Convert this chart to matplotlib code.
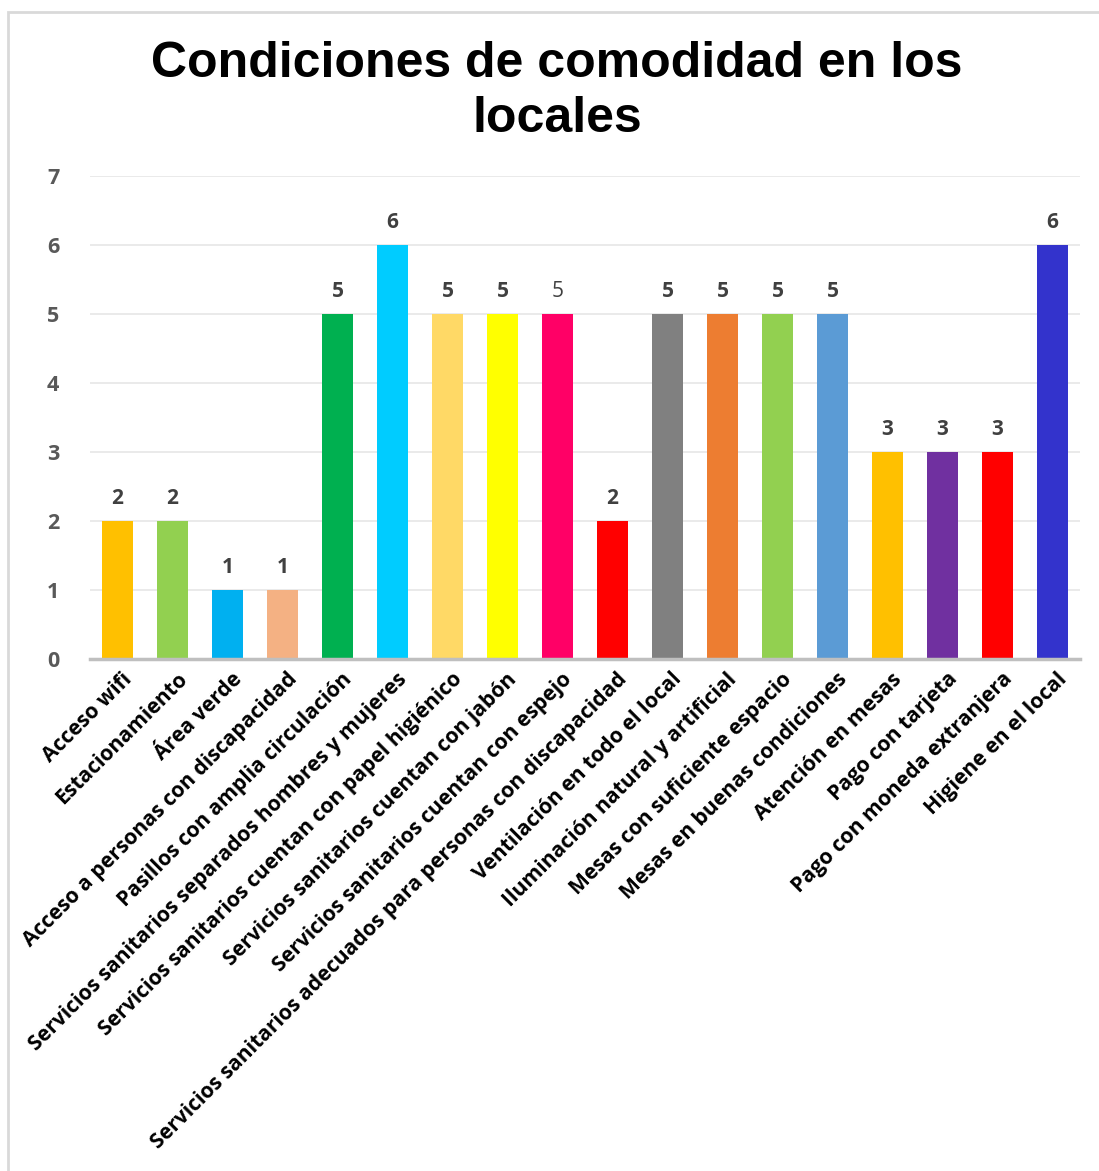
import numpy as np
import matplotlib
matplotlib.use("Agg")
import matplotlib.pyplot as plt
import matplotlib.transforms as mtransforms
from matplotlib.patches import Rectangle

categorias = [
    "Acceso wifi",
    "Estacionamiento",
    "Área verde",
    "Acceso a personas con discapacidad",
    "Pasillos con amplia circulación",
    "Servicios sanitarios separados hombres y mujeres",
    "Servicios sanitarios cuentan con papel higiénico",
    "Servicios sanitarios cuentan con jabón",
    "Servicios sanitarios cuentan con espejo",
    "Servicios sanitarios adecuados para personas con discapacidad",
    "Ventilación en todo el local",
    "Iluminación natural y artificial",
    "Mesas con suficiente espacio",
    "Mesas en buenas condiciones",
    "Atención en mesas",
    "Pago con tarjeta",
    "Pago con moneda extranjera",
    "Higiene en el local",
]
valores = [2, 2, 1, 1, 5, 6, 5, 5, 5, 2, 5, 5, 5, 5, 3, 3, 3, 6]
colores = ["#FFC000", "#92D050", "#00B0F0", "#F4B183", "#00B050", "#00CCFF",
           "#FFD966", "#FFFF00", "#FF0066", "#FF0000", "#808080", "#ED7D31",
           "#92D050", "#5B9BD5", "#FFC000", "#7030A0", "#FF0000", "#3333CC"]

fuente = "Open Sans"

fig = plt.figure(figsize=(10.99, 11.71), dpi=100)
ax = fig.add_axes([90 / 1099, 1 - 659 / 1171, 990 / 1099, (659 - 176) / 1171])

x = np.arange(len(categorias))
barras = ax.bar(x, valores, width=0.57, color=colores, zorder=3)

for i, (xi, v) in enumerate(zip(x, valores)):
    peso = "normal" if i == 8 else "bold"
    ax.text(xi, v + 0.18, str(v), ha="center", va="bottom", fontsize=15,
            fontweight=peso, color="#404040", family=fuente)

ax.set_xlim(-0.5, len(categorias) - 0.5)
ax.set_ylim(0, 7)
ax.set_yticks(range(0, 8))
ax.yaxis.grid(True, color="#e6e6e6", linewidth=1.2, zorder=0)
ax.set_axisbelow(True)
for s in ["top", "right", "left"]:
    ax.spines[s].set_visible(False)
ax.spines["bottom"].set_color("#bfbfbf")
ax.spines["bottom"].set_linewidth(2.5)
ax.spines["bottom"].set_zorder(4)
ax.tick_params(axis="both", length=0)
ax.tick_params(axis="y", pad=22)
ax.tick_params(axis="x", pad=7)

ax.set_yticklabels([str(t) for t in range(0, 8)], fontsize=15.5, fontweight="bold",
                   color="#595959", family=fuente)
ax.set_xticks(x)
ax.set_xticklabels(categorias, rotation=45, ha="right", va="top",
                   rotation_mode="anchor", fontsize=15.2, fontweight="bold",
                   color="black", family=fuente)
desplazar = mtransforms.ScaledTranslation(4 / 100, 0, fig.dpi_scale_trans)
for lbl in ax.get_xticklabels():
    lbl.set_transform(lbl.get_transform() + desplazar)

fig.text(557 / 1099, 1 - 64 / 1171, "Condiciones de comodidad en los",
         ha="center", va="center", fontsize=36, fontweight="bold",
         family="Liberation Sans")
fig.text(557 / 1099, 1 - 119 / 1171, "locales",
         ha="center", va="center", fontsize=36, fontweight="bold",
         family="Liberation Sans")

# marco gris del grafico
fig.patches.append(Rectangle((8 / 1099, -0.05), 1.2, 1 - 12 / 1171 + 0.05,
                             transform=fig.transFigure, fill=False,
                             edgecolor="#d9d9d9", linewidth=2))

fig.savefig("out.png", dpi=100)
